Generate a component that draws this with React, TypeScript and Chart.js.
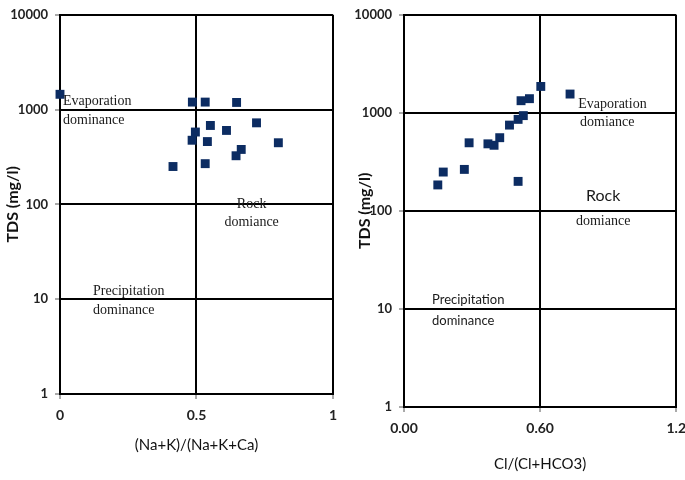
import React, { useEffect, useRef } from "react";
import { Chart, registerables } from "chart.js";
Chart.register(...registerables);

// ---------- data ----------
const yTickValues = [1, 10, 100, 1000, 10000];
const leftXTickValues = [0, 0.5, 1];
const leftXTickLabels = ["0", "0.5", "1"];
const rightXTickValues = [0, 0.6, 1.2];
const rightXTickLabels = ["0.00", "0.60", "1.2"];

const naRatio = [0.0, 0.485, 0.532, 0.647, 0.551, 0.72, 0.61, 0.496, 0.484, 0.54, 0.8, 0.664, 0.645, 0.414, 0.532];
const tdsLeft = [1450, 1200, 1200, 1190, 680, 725, 603, 580, 475, 460, 447, 380, 326, 251, 269];

const clRatio = [0.603, 0.732, 0.516, 0.553, 0.526, 0.503, 0.465, 0.422, 0.37, 0.397, 0.287, 0.266, 0.173, 0.149, 0.503];
const tdsRight = [1860, 1555, 1330, 1395, 937, 858, 750, 558, 483, 467, 495, 265, 249, 184, 200];

const yTitle = "TDS (mg/l)";
const leftXTitle = "(Na+K)/(Na+K+Ca)";
const rightXTitle = "Cl/(Cl+HCO3)";

const SERIF = "'Liberation Serif', 'DejaVu Serif', serif";
const SANS = "Lato, 'Open Sans', sans-serif";

type Note = { text: string; x: number; y: number; font: string; align: CanvasTextAlign };

const leftNotes: Note[] = [
  { text: "Evaporation", x: 0.011, y: 1220, font: `14px ${SERIF}`, align: "left" },
  { text: "dominance", x: 0.011, y: 770, font: `14px ${SERIF}`, align: "left" },
  { text: "Rock", x: 0.702, y: 100, font: `14px ${SERIF}`, align: "center" },
  { text: "domiance", x: 0.702, y: 64, font: `14px ${SERIF}`, align: "center" },
  { text: "Precipitation", x: 0.121, y: 12.0, font: `14px ${SERIF}`, align: "left" },
  { text: "dominance", x: 0.121, y: 7.7, font: `14px ${SERIF}`, align: "left" },
];

const rightNotes: Note[] = [
  { text: "Evaporation", x: 0.768, y: 1229, font: `14px ${SERIF}`, align: "left" },
  { text: "domiance", x: 0.776, y: 803, font: `14px ${SERIF}`, align: "left" },
  { text: "Rock", x: 0.878, y: 144, font: `16px ${SANS}`, align: "center" },
  { text: "domiance", x: 0.878, y: 78, font: `14px ${SERIF}`, align: "center" },
  { text: "Precipitation", x: 0.1235, y: 12.4, font: `13px ${SANS}`, align: "left" },
  { text: "dominance", x: 0.1235, y: 7.59, font: `13px ${SANS}`, align: "left" },
];

function notesPlugin(notes: Note[]) {
  return {
    id: "notes",
    afterDatasetsDraw(chart: any) {
      const { ctx, scales } = chart;
      ctx.save();
      ctx.fillStyle = "#1a1a1a";
      ctx.textBaseline = "middle";
      for (const n of notes) {
        ctx.font = n.font;
        ctx.textAlign = n.align;
        ctx.fillText(n.text, scales.x.getPixelForValue(n.x), scales.y.getPixelForValue(n.y));
      }
      ctx.restore();
    },
  };
}

type PanelProps = {
  left: number;
  width: number;
  xs: number[];
  ys: number[];
  xMax: number;
  xTicks: number[];
  xLabels: string[];
  xTitle: string;
  notes: Note[];
  pad: { top: number; right: number; bottom: number };
  yWidth: number;
  yTitlePad: number;
  xHeight: number;
  xTickPad: number;
  xTitlePadBottom: number;
};

function Panel(p: PanelProps) {
  const ref = useRef<HTMLCanvasElement | null>(null);
  useEffect(() => {
    if (!ref.current) return;
    const chart = new Chart(ref.current, {
      type: "scatter",
      data: {
        datasets: [
          {
            data: p.xs.map((x, i) => ({ x, y: p.ys[i] })),
            pointStyle: "rect",
            pointRadius: 6.3,
            pointBackgroundColor: "#0c2c62",
            pointBorderWidth: 0,
            clip: false as any,
          },
        ],
      },
      options: {
        responsive: false,
        animation: false,
        devicePixelRatio: 1,
        events: [],
        layout: { padding: { left: 0, right: p.pad.right, top: p.pad.top, bottom: p.pad.bottom } },
        plugins: { legend: { display: false }, tooltip: { enabled: false } },
        scales: {
          x: {
            type: "linear",
            min: 0,
            max: p.xMax,
            afterBuildTicks: (s: any) => {
              s.ticks = p.xTicks.map((v) => ({ value: v }));
            },
            afterFit: (s: any) => {
              s.height = p.xHeight;
            },
            ticks: {
              callback: (_v: any, i: number) => p.xLabels[i],
              font: { family: SANS, size: 14, weight: "bold" },
              color: "#222",
              padding: p.xTickPad,
              maxRotation: 0,
              autoSkip: false,
            },
            grid: { color: "#000", lineWidth: 2, tickLength: 5, tickColor: "#555", tickWidth: 1 },
            border: { color: "#000", width: 2 },
            title: {
              display: true,
              text: p.xTitle,
              font: { family: SANS, size: 15 },
              color: "#111",
              padding: { top: 0, bottom: p.xTitlePadBottom },
            },
          },
          y: {
            type: "logarithmic",
            min: 1,
            max: 10000,
            afterBuildTicks: (s: any) => {
              s.ticks = yTickValues.map((v) => ({ value: v }));
            },
            afterFit: (s: any) => {
              s.width = p.yWidth;
            },
            ticks: {
              callback: (v: any) => String(v),
              font: { family: SANS, size: 13, weight: "bold" },
              color: "#222",
              padding: 7,
              autoSkip: false,
            },
            grid: { color: "#000", lineWidth: 2, tickLength: 5, tickColor: "#555", tickWidth: 1 },
            border: { color: "#000", width: 2 },
            title: {
              display: true,
              text: yTitle,
              font: { family: SANS, size: 16, weight: "bold" },
              color: "#111",
              padding: { top: p.yTitlePad, bottom: 0 },
            },
          },
        },
      },
      plugins: [notesPlugin(p.notes)],
    } as any);
    return () => chart.destroy();
  }, []);
  return (
    <canvas
      ref={ref}
      width={p.width}
      height={480}
      style={{ position: "absolute", left: p.left, top: 0, width: p.width, height: 480 }}
    />
  );
}

export default function App() {
  return (
    <div style={{ position: "absolute", left: 0, top: 0, width: 685, height: 480, background: "#fff", overflow: "hidden" }}>
      <Panel
        left={0}
        width={345}
        xs={naRatio}
        ys={tdsLeft}
        xMax={1}
        xTicks={leftXTickValues}
        xLabels={leftXTickLabels}
        xTitle={leftXTitle}
        notes={leftNotes}
        pad={{ top: 7, right: 0, bottom: 26 }}
        yWidth={60}
        yTitlePad={3}
        xHeight={60}
        xTickPad={8}
        xTitlePadBottom={0}
      />
      <Panel
        left={340}
        width={354}
        xs={clRatio}
        ys={tdsRight}
        xMax={1.2}
        xTicks={rightXTickValues}
        xLabels={rightXTickLabels}
        xTitle={rightXTitle}
        notes={rightNotes}
        pad={{ top: 9, right: 4, bottom: 7 }}
        yWidth={64}
        yTitlePad={15}
        xHeight={66}
        xTickPad={8}
        xTitlePadBottom={0}
      />
    </div>
  );
}
